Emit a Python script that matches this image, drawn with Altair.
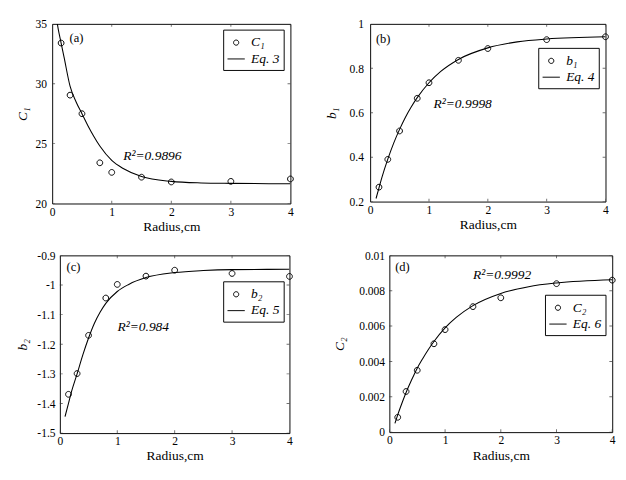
import altair as alt
import pandas as pd

FONT = "Liberation Serif"

# ---------------- data ----------------
radius = [0.15, 0.3, 0.5, 0.8, 1.0, 1.5, 2.0, 3.0, 4.0]

c1_obs = [33.4, 29.05, 27.5, 23.4, 22.6, 22.2, 21.8, 21.85, 22.05]
b1_obs = [0.265, 0.39, 0.518, 0.665, 0.735, 0.836, 0.889, 0.929, 0.942]
b2_obs = [-1.369, -1.299, -1.170, -1.044, -0.998, -0.970, -0.950, -0.961, -0.971]
c2_obs = [0.00084, 0.0023, 0.0035, 0.0050, 0.0058, 0.0071, 0.0076, 0.0084, 0.0086]

fit_r = [0.1, 0.15, 0.2, 0.3, 0.4, 0.5, 0.6, 0.7, 0.8, 1.0, 1.2, 1.5, 2.0, 2.5, 3.0, 4.0]
c1_fit_r = [0.08] + fit_r
c1_fit = [35.2, 34.6, 33.4, 32.2, 29.8, 28.5, 27.5, 26.5, 25.6, 24.8, 23.6, 22.9, 22.25, 21.85, 21.72, 21.68, 21.65]
b1_fit = [0.214, 0.262, 0.309, 0.391, 0.463, 0.525, 0.58, 0.627, 0.668, 0.735, 0.786, 0.84, 0.892, 0.919, 0.932, 0.942]
b2_fit_r = [0.09] + fit_r[1:]
b2_fit = [-1.444, -1.400, -1.362, -1.300, -1.236, -1.179, -1.130, -1.092, -1.062, -1.022, -0.998, -0.975, -0.958, -0.951, -0.948, -0.947]
c2_fit = [0.0005, 0.00098, 0.00142, 0.00224, 0.00296, 0.00362, 0.00417, 0.00468, 0.00513, 0.0059, 0.00649, 0.00716, 0.00785, 0.00823, 0.00844, 0.00862]

x_ticks = [0, 1, 2, 3, 4]
c1_ticks = [20, 25, 30, 35]
b1_ticks = [0.2, 0.4, 0.6, 0.8, 1.0]
b2_ticks = [-1.5, -1.4, -1.3, -1.2, -1.1, -1.0, -0.9]
c2_ticks = [0, 0.002, 0.004, 0.006, 0.008, 0.01]

CIRCLE = "M-0.3,0A0.3,0.3,0,1,1,0.3,0A0.3,0.3,0,1,1,-0.3,0Z"
DASH = "M-1,0L1,0"


def panel(obs, fx, fy, yticks, ytitle, names, r2, r2pos, tag, tagpos, legpos,
          w, h, extent, tpad, lpad):
    xs = alt.Scale(domain=[x_ticks[0], x_ticks[-1]], nice=False, zero=False)
    ys = alt.Scale(domain=[min(yticks), max(yticks)], nice=False, zero=False)
    xaxis = alt.Axis(values=x_ticks, title="Radius,cm", format="~g",
                     labelFlush=False, labelPadding=3, titlePadding=3,
                     titleFontWeight="normal", titleFontSize=14)
    yaxis = alt.Axis(values=yticks, title=ytitle, format="~g",
                     labelExpr="replace(datum.label, '\u2212', '-')",
                     labelPadding=lpad, titlePadding=tpad,
                     minExtent=extent, maxExtent=extent,
                     titleFontStyle="italic", titleFontSize=14,
                     titleFontWeight="normal")
    X = alt.X("r:Q", scale=xs, axis=xaxis)
    Y = alt.Y("v:Q", scale=ys, axis=yaxis)

    df_obs = pd.DataFrame({"r": radius, "v": obs, "s": names[0]})
    df_fit = pd.DataFrame({"r": fx, "v": fy})

    line = alt.Chart(df_fit).mark_line(
        color="black", strokeWidth=1.1, clip=True, interpolate="monotone"
    ).encode(x=X, y=Y)

    pts = alt.Chart(df_obs).mark_point(
        filled=False, color="black", size=400, strokeWidth=1, opacity=1
    ).encode(
        x=X, y=Y,
        shape=alt.Shape(
            "s:N",
            scale=alt.Scale(domain=names, range=[CIRCLE, DASH]),
            legend=alt.Legend(
                title=None, orient="none", legendX=legpos[0], legendY=legpos[1],
                fillColor="white", strokeColor="black", padding=4,
                symbolSize=324, symbolStrokeWidth=1, symbolStrokeColor="black",
                labelFont=FONT, labelFontSize=14, labelFontStyle="italic",
                labelColor="black", labelOffset=6, rowPadding=0, cornerRadius=0,
            ),
        ),
    )

    ytk = pd.DataFrame({"r": [x_ticks[0]] * len(yticks) + [x_ticks[-1]] * len(yticks),
                        "v": yticks + yticks})
    xtk = pd.DataFrame({"r": x_ticks + x_ticks,
                        "v": [min(yticks)] * len(x_ticks) + [max(yticks)] * len(x_ticks)})
    yt = alt.Chart(ytk).mark_tick(orient="horizontal", size=6, thickness=1,
                                  color="#333", clip=True).encode(x=X, y=Y)
    xt = alt.Chart(xtk).mark_tick(orient="vertical", size=6, thickness=1,
                                  color="#333", clip=True).encode(x=X, y=Y)

    r2t = alt.Chart(pd.DataFrame({"t": [r2]})).mark_text(
        align="left", baseline="alphabetic", font=FONT, fontSize=14,
        fontStyle="italic", color="black"
    ).encode(x=alt.value(r2pos[0]), y=alt.value(r2pos[1]), text="t:N")

    tg = alt.Chart(pd.DataFrame({"t": [tag]})).mark_text(
        align="left", baseline="alphabetic", font=FONT, fontSize=13, color="black"
    ).encode(x=alt.value(tagpos[0]), y=alt.value(tagpos[1]), text="t:N")

    return alt.layer(line, pts, yt, xt, r2t, tg).properties(width=w, height=h)


def spacer(w):
    return alt.Chart(pd.DataFrame({"z": [0]})).mark_point(opacity=0).properties(
        width=w, height=1, view=alt.ViewBackground(stroke="transparent"))


pa = panel(c1_obs, c1_fit_r, c1_fit, c1_ticks, "C\u2081", ["C\u2081", "Eq. 3"],
           "R\u00b2=0.9896", (74, 142), "(a)", (18, 19), (178, 6),
           248, 187, 20, 4, 6)
pb = panel(b1_obs, fit_r, b1_fit, b1_ticks, "b\u2081", ["b\u2081", "Eq. 4"],
           "R\u00b2=0.9998", (66, 88), "(b)", (6, 20), (175, 25),
           245, 185, 28, 5, 7)
pc = panel(b2_obs, b2_fit_r, b2_fit, b2_ticks, "b\u2082", ["b\u2082", "Eq. 5"],
           "R\u00b2=0.984", (60, 79), "(c)", (7, 16), (170, 27),
           239, 185, 28, 4, 5)
pd_ = panel(c2_obs, fit_r, c2_fit, c2_ticks, "C\u2082", ["C\u2082", "Eq. 6"],
            "R\u00b2=0.9992", (87, 25), "(d)", (6, 16), (162, 41),
            232, 184, 40, 5, 5)

chart = alt.concat(
    spacer(1), pa, spacer(25), pb,
    spacer(1), pc, spacer(27), pd_,
    columns=4, align="none",
    spacing={"row": 15, "column": 0},
).resolve_scale(
    x="independent", y="independent", shape="independent"
).resolve_legend(shape="independent").properties(
    padding=0, background="white"
).configure(font=FONT).configure_view(
    stroke="black", strokeWidth=1
).configure_axis(
    grid=False, domain=False, ticks=False, tickSize=0,
    labelFont=FONT, labelFontSize=12, labelColor="black",
    titleFont=FONT, titleFontSize=14, titleFontWeight="normal", titleColor="black",
)

chart.save("out.html", embed_options={"renderer": "svg", "actions": False})
